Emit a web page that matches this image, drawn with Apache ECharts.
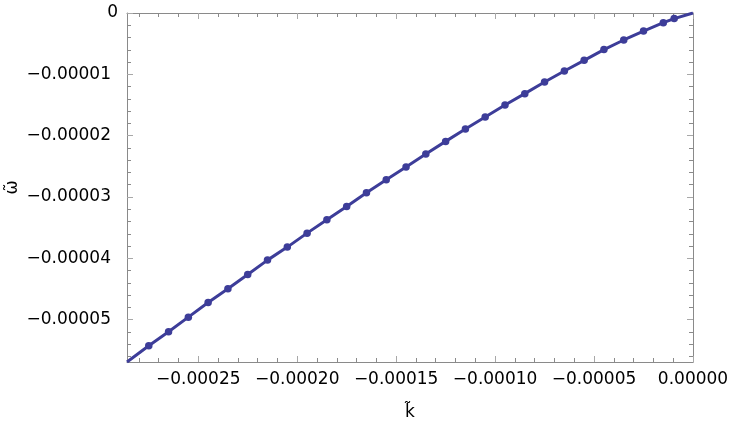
<!DOCTYPE html>
<html>
<head>
<meta charset="utf-8">
<script src="https://cdn.jsdelivr.net/npm/echarts@6/dist/echarts.min.js"></script>
<style>html,body{margin:0;padding:0;background:#fff;}#c{width:733px;height:440px;}</style>
</head>
<body>
<div id="c"></div>
<script>
const kData = [-0.000286, -0.000275, -0.000265, -0.000255, -0.000245, -0.000235, -0.000225, -0.000215, -0.000205, -0.000195, -0.000185, -0.000175, -0.000165, -0.000155, -0.000145, -0.000135, -0.000125, -0.000115, -0.000105, -0.000095, -0.000085, -0.000075, -0.000065, -0.000055, -0.000045, -0.000035, -0.000025, -0.000015, -0.0000095, 0];
const wData = [-5.69e-5, -5.424e-5, -5.196e-5, -4.959e-5, -4.719e-5, -4.496e-5, -4.263e-5, -4.029e-5, -3.817e-5, -3.589e-5, -3.370e-5, -3.153e-5, -2.930e-5, -2.718e-5, -2.512e-5, -2.300e-5, -2.093e-5, -1.892e-5, -1.697e-5, -1.501e-5, -1.315e-5, -1.126e-5, -0.946e-5, -0.772e-5, -0.597e-5, -0.440e-5, -0.294e-5, -0.157e-5, -0.091e-5, 0];
const kTicks = [-0.00025, -0.0002, -0.00015, -0.0001, -0.00005, 0];
const kMinor = [-0.00028, -0.00027, -0.00026, -0.00024, -0.00023, -0.00022, -0.00021, -0.00019, -0.00018, -0.00017, -0.00016, -0.00014, -0.00013, -0.00012, -0.00011, -0.00009, -0.00008, -0.00007, -0.00006, -0.00004, -0.00003, -0.00002, -0.00001];
const wTicks = [-0.00005, -0.00004, -0.00003, -0.00002, -0.00001, 0];
const wMinor = [-0.000056, -0.000054, -0.000052, -0.000048, -0.000046, -0.000044, -0.000042, -0.000038, -0.000036, -0.000034, -0.000032, -0.000028, -0.000026, -0.000024, -0.000022, -0.000018, -0.000016, -0.000014, -0.000012, -0.000008, -0.000006, -0.000004, -0.000002];
const kMin = -0.000286, kMax = 0;
const wMin = -0.0000569, wMax = 0;

const FONT = 'DejaVu Sans';
const FRAME = '#8a8a8a';
const MAJ = '#a8a8a8';
const LINE = '#3d3d99';

function xAx(pos, ticks, len, col, showLine, labels) {
  return {
    type: 'value', position: pos, min: kMin, max: kMax,
    axisLine: { show: showLine, onZero: false, lineStyle: { color: FRAME, width: 1 } },
    axisTick: { show: true, inside: true, length: len, customValues: ticks, lineStyle: { color: col, width: 1 } },
    axisLabel: labels ? {
      show: true, customValues: ticks, margin: 9, color: '#000', fontFamily: FONT, fontSize: 17,
      formatter: v => v === 0 ? '0.00000' : '\u2212' + Math.abs(v).toFixed(5)
    } : { show: false },
    splitLine: { show: false }, minorTick: { show: false }
  };
}
function yAx(pos, ticks, len, col, showLine, labels) {
  return {
    type: 'value', position: pos, min: wMin, max: wMax,
    axisLine: { show: showLine, onZero: false, lineStyle: { color: FRAME, width: 1 } },
    axisTick: { show: true, inside: true, length: len, customValues: ticks, lineStyle: { color: col, width: 1 } },
    axisLabel: labels ? {
      show: true, customValues: ticks, margin: 9, color: '#000', fontFamily: FONT, fontSize: 17,
      formatter: v => v === 0 ? '0' : '{a|\u2212' + Math.abs(v).toFixed(5) + '}',
      rich: { a: { fontFamily: FONT, fontSize: 17, color: '#000', padding: [0, 7, 0, 0] } }
    } : { show: false },
    splitLine: { show: false }, minorTick: { show: false }
  };
}

const xAxes = [
  xAx('bottom', kTicks, 6, MAJ, true, true),
  xAx('bottom', kMinor, 4, FRAME, false, false),
  xAx('top', kTicks, 6, MAJ, true, false),
  xAx('top', kMinor, 4, FRAME, false, false)
];
xAxes[0].name = 'k\u0303';
xAxes[0].nameLocation = 'middle';
xAxes[0].nameGap = 42;
xAxes[0].nameMoveOverlap = false;
xAxes[0].nameTextStyle = { fontFamily: FONT, fontSize: 17, color: '#000' };

const yAxes = [
  yAx('left', wTicks, 6, MAJ, true, true),
  yAx('left', wMinor, 4, FRAME, false, false),
  yAx('right', wTicks, 6, MAJ, true, false),
  yAx('right', wMinor, 4, FRAME, false, false)
];
yAxes[0].name = '\u03c9\u0303';
yAxes[0].nameLocation = 'middle';
yAxes[0].nameGap = 106;
yAxes[0].nameMoveOverlap = false;
yAxes[0].nameTextStyle = { fontFamily: FONT, fontSize: 17, color: '#000' };

const pts = kData.map((k, i) => [k, wData[i]]);
const last = pts.length - 1;

const chart = echarts.init(document.getElementById('c'), null, { renderer: 'canvas' });
chart.setOption({
  animation: false,
  backgroundColor: '#fff',
  grid: { left: 127, top: 13, width: 566, height: 349, containLabel: false, outerBoundsMode: 'none' },
  xAxis: xAxes,
  yAxis: yAxes,
  series: [{
    type: 'line', xAxisIndex: 0, yAxisIndex: 0, data: pts,
    showSymbol: true, symbol: 'circle',
    symbolSize: (v, p) => (p.dataIndex === 0 || p.dataIndex === last) ? 0 : 7.5,
    lineStyle: { color: LINE, width: 3 },
    itemStyle: { color: LINE },
    clip: true
  }]
});
</script>
</body>
</html>
